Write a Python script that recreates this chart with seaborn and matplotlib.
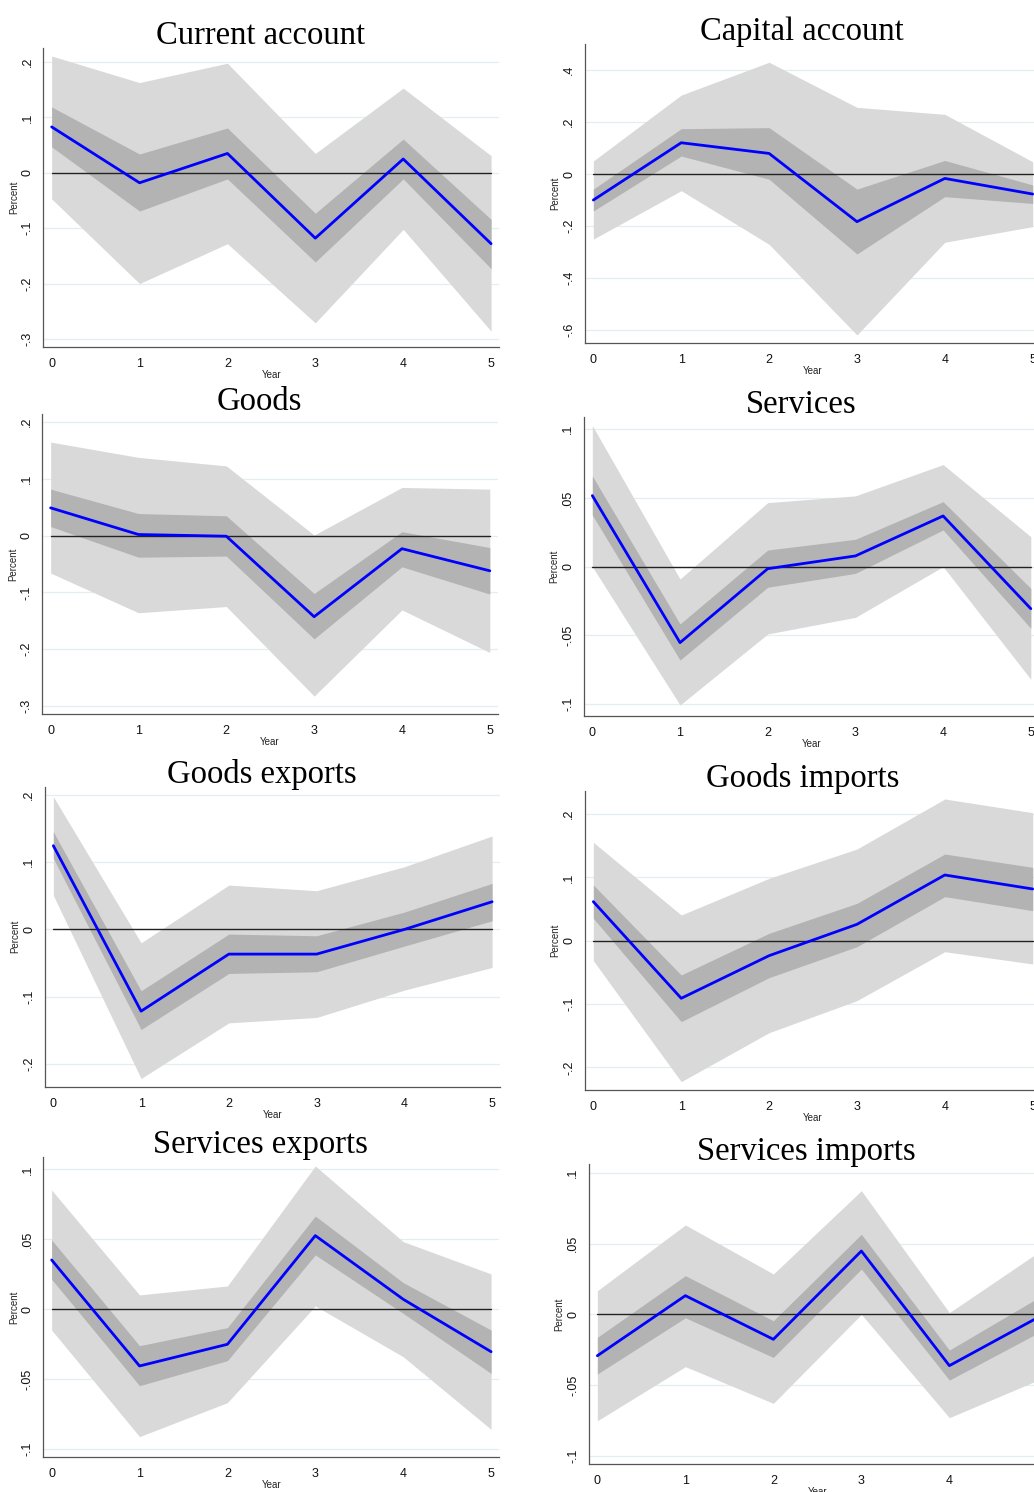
import numpy as np
import pandas as pd
import matplotlib
matplotlib.use("Agg")
import matplotlib.pyplot as plt
import seaborn as sns

# years after the shock
years = [0, 1, 2, 3, 4, 5]

# Current account
current_est = [0.083, -0.018, 0.035, -0.118, 0.025, -0.128]
current_hi68 = [0.119, 0.034, 0.081, -0.073, 0.061, -0.084]
current_lo68 = [0.047, -0.069, -0.011, -0.161, -0.011, -0.173]
current_hi90 = [0.211, 0.163, 0.198, 0.035, 0.153, 0.031]
current_lo90 = [-0.047, -0.200, -0.128, -0.271, -0.102, -0.286]

# Capital account
capital_est = [-0.100, 0.120, 0.079, -0.183, -0.017, -0.077]
capital_hi68 = [-0.058, 0.174, 0.178, -0.058, 0.052, -0.042]
capital_lo68 = [-0.142, 0.069, -0.020, -0.307, -0.087, -0.113]
capital_hi90 = [0.050, 0.303, 0.429, 0.256, 0.229, 0.047]
capital_lo90 = [-0.250, -0.064, -0.270, -0.618, -0.262, -0.202]

# Goods
goods_est = [0.049, 0.002, -0.001, -0.143, -0.023, -0.062]
goods_hi68 = [0.082, 0.039, 0.035, -0.102, 0.007, -0.021]
goods_lo68 = [0.016, -0.038, -0.036, -0.182, -0.055, -0.103]
goods_hi90 = [0.165, 0.138, 0.123, 0.001, 0.085, 0.082]
goods_lo90 = [-0.066, -0.136, -0.125, -0.283, -0.131, -0.206]

# Services
services_est = [0.0517, -0.0553, -0.0015, 0.0078, 0.0369, -0.0306]
services_hi68 = [0.0660, -0.0417, 0.0121, 0.0199, 0.0473, -0.0158]
services_lo68 = [0.0376, -0.0680, -0.0150, -0.0049, 0.0267, -0.0449]
services_hi90 = [0.1027, -0.0090, 0.0466, 0.0515, 0.0743, 0.0218]
services_lo90 = [0.0000, -0.1007, -0.0490, -0.0369, 0.0000, -0.0820]

# Goods exports
gexp_est = [0.1246, -0.1216, -0.0367, -0.0367, 0.0000, 0.0412]
gexp_hi68 = [0.1454, -0.0913, -0.0069, -0.0094, 0.0258, 0.0685]
gexp_lo68 = [0.1057, -0.1489, -0.0655, -0.0630, -0.0248, 0.0129]
gexp_hi90 = [0.1975, -0.0199, 0.0660, 0.0576, 0.0933, 0.1390]
gexp_lo90 = [0.0506, -0.2218, -0.1390, -0.1310, -0.0903, -0.0566]

# Goods imports
gimp_est = [0.0616, -0.0910, -0.0237, 0.0258, 0.1037, 0.0816]
gimp_hi68 = [0.0879, -0.0542, 0.0116, 0.0589, 0.1368, 0.1158]
gimp_lo68 = [0.0353, -0.1279, -0.0584, -0.0095, 0.0695, 0.0474]
gimp_hi90 = [0.1553, 0.0405, 0.0984, 0.1447, 0.2237, 0.2021]
gimp_lo90 = [-0.0316, -0.2226, -0.1453, -0.0947, -0.0174, -0.0368]

# Services exports
sexp_est = [0.0353, -0.0405, -0.0250, 0.0527, 0.0072, -0.0303]
sexp_hi68 = [0.0496, -0.0260, -0.0131, 0.0667, 0.0191, -0.0148]
sexp_lo68 = [0.0215, -0.0546, -0.0367, 0.0389, -0.0029, -0.0458]
sexp_hi90 = [0.0853, 0.0103, 0.0167, 0.1025, 0.0484, 0.0253]
sexp_lo90 = [-0.0148, -0.0910, -0.0667, 0.0024, -0.0339, -0.0858]

# Services imports
simp_est = [-0.0292, 0.0132, -0.0176, 0.0447, -0.0362, -0.0024]
simp_hi68 = [-0.0162, 0.0273, -0.0045, 0.0565, -0.0252, 0.0113]
simp_lo68 = [-0.0421, -0.0024, -0.0304, 0.0320, -0.0464, -0.0134]
simp_hi90 = [0.0167, 0.0631, 0.0285, 0.0873, 0.0012, 0.0433]
simp_lo90 = [-0.0751, -0.0369, -0.0628, 0.0000, -0.0729, -0.0466]

titles = ["Current account", "Capital account", "Goods", "Services",
          "Goods exports", "Goods imports", "Services exports", "Services imports"]

series = [
    (current_est, current_lo68, current_hi68, current_lo90, current_hi90),
    (capital_est, capital_lo68, capital_hi68, capital_lo90, capital_hi90),
    (goods_est, goods_lo68, goods_hi68, goods_lo90, goods_hi90),
    (services_est, services_lo68, services_hi68, services_lo90, services_hi90),
    (gexp_est, gexp_lo68, gexp_hi68, gexp_lo90, gexp_hi90),
    (gimp_est, gimp_lo68, gimp_hi68, gimp_lo90, gimp_hi90),
    (sexp_est, sexp_lo68, sexp_hi68, sexp_lo90, sexp_hi90),
    (simp_est, simp_lo68, simp_hi68, simp_lo90, simp_hi90),
]

yticks = [
    [-0.3, -0.2, -0.1, 0, 0.1, 0.2],
    [-0.6, -0.4, -0.2, 0, 0.2, 0.4],
    [-0.3, -0.2, -0.1, 0, 0.1, 0.2],
    [-0.1, -0.05, 0, 0.05, 0.1],
    [-0.2, -0.1, 0, 0.1, 0.2],
    [-0.2, -0.1, 0, 0.1, 0.2],
    [-0.1, -0.05, 0, 0.05, 0.1],
    [-0.1, -0.05, 0, 0.05, 0.1],
]
ylims = [(-0.314, 0.226), (-0.650, 0.498), (-0.314, 0.214), (-0.1087, 0.1087),
         (-0.234, 0.2124), (-0.2358, 0.2368), (-0.1058, 0.1087), (-0.1056, 0.1059)]

# axes boxes in pixels: left, right, top, bottom
boxes = [(43.3, 499, 47.7, 346.7), (585, 1040.6, 44.3, 343.3),
         (42.3, 497.7, 414.3, 713.7), (584, 1038.7, 417.3, 716),
         (45, 500, 786.7, 1086.7), (585, 1040.6, 790.7, 1090),
         (43.3, 499, 1157.3, 1457.3), (589, 1045.3, 1164.3, 1464)]

W, H = 1034, 1492
sns.set_style("white")
fig = plt.figure(figsize=(W / 100, H / 100), dpi=100)


def stata_fmt(v):
    if abs(v) < 1e-12:
        return "0"
    s = f"{v:g}"
    return s.replace("0.", ".")


for i, (title, (est, lo68, hi68, lo90, hi90)) in enumerate(zip(titles, series)):
    l, r, t, b = boxes[i]
    ax = fig.add_axes([l / W, 1 - b / H, (r - l) / W, (b - t) / H])

    for yt in yticks[i]:
        ax.axhline(yt, color="#e4eef1", lw=0.9, zorder=0)
    ax.fill_between(years, lo90, hi90, color="#d9d9d9", lw=0, zorder=1)
    ax.fill_between(years, lo68, hi68, color="#b3b3b3", lw=0, zorder=2)
    ax.plot([0, 5], [0, 0], color="#222222", lw=1.0, zorder=3)

    df = pd.DataFrame({"Year": years, "Percent": est})
    sns.lineplot(data=df, x="Year", y="Percent", color="#0000ff", lw=2.0,
                 ax=ax, zorder=4)

    ax.set_xlim(-0.095, 5.09)
    ax.set_ylim(*ylims[i])
    ax.set_xticks(years)
    ax.set_xticklabels([str(y) for y in years], fontsize=9,
                       family="Liberation Sans")
    ax.set_yticks(yticks[i])
    ax.set_yticklabels([stata_fmt(v) for v in yticks[i]], fontsize=9,
                       family="Liberation Sans", rotation=90, va="center")
    ax.tick_params(axis="both", direction="out", length=4, width=0.8,
                   color="#555555", pad=3, labelcolor="#111111")
    ax.tick_params(axis="x", pad=4)
    ax.set_xlabel("Year", fontsize=7, family="Liberation Sans", labelpad=0,
                  color="#222222")
    ax.set_ylabel("Percent", fontsize=7, family="Liberation Sans", labelpad=2,
                  color="#222222")
    for side in ["top", "right"]:
        ax.spines[side].set_visible(False)
    for side in ["left", "bottom"]:
        ax.spines[side].set_color("#555555")
        ax.spines[side].set_linewidth(0.9)
    ax.set_title(title, fontsize=23.5, family="Liberation Serif", x=0.477,
                 pad=3, color="black")

fig.savefig("out.png", dpi=100)
